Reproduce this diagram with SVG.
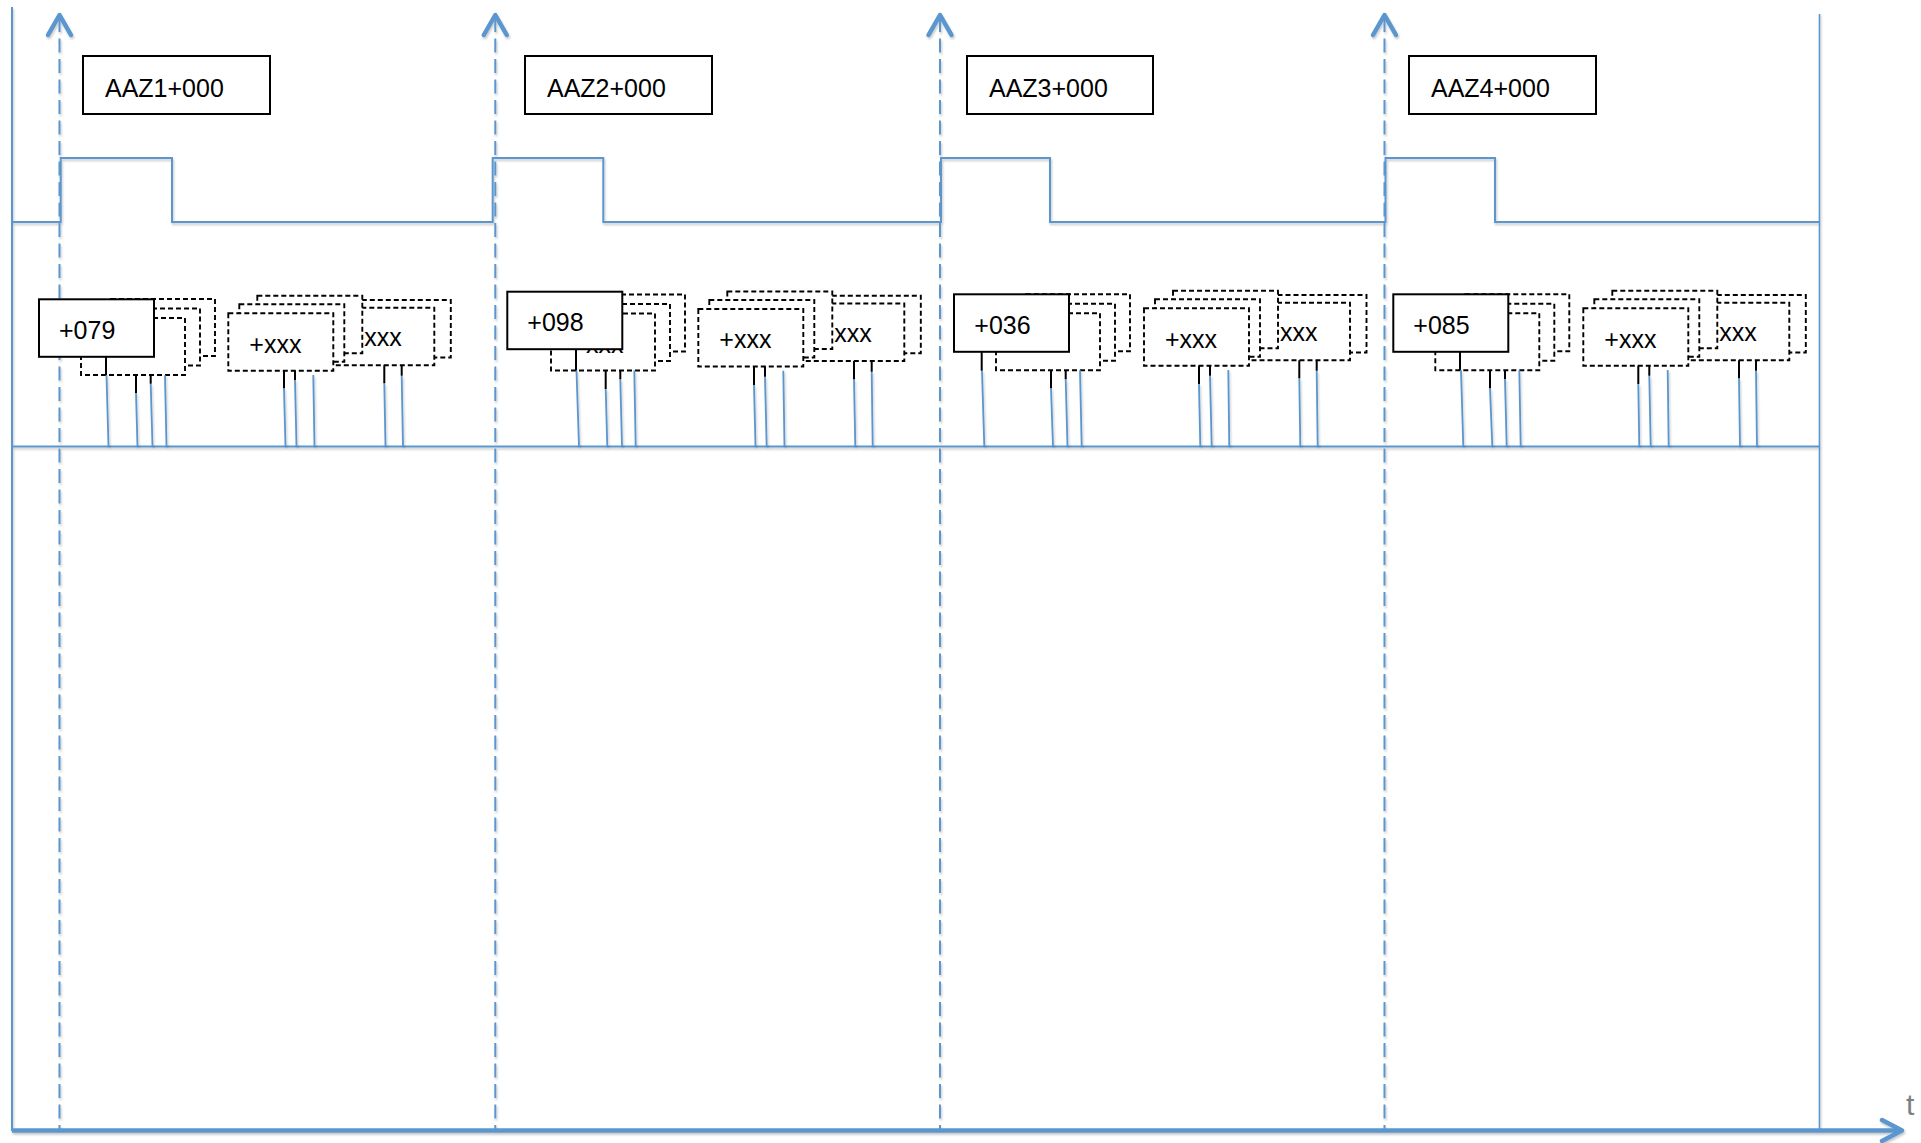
<svg xmlns="http://www.w3.org/2000/svg" width="1921" height="1143" viewBox="0 0 1921 1143">
<defs>
<filter id="sh" filterUnits="userSpaceOnUse" x="0" y="0" width="1921" height="1143">
<feDropShadow dx="1" dy="2" stdDeviation="1.2" flood-color="#000" flood-opacity="0.22"/>
</filter>
<style>
.bl{stroke:#5B96CE;fill:none}
.w2{stroke-width:2}
.w15{stroke-width:1.6}
.dl{stroke-width:2;stroke-dasharray:14 6.5}
.hd{stroke-width:4.5;stroke-linecap:round;stroke-linejoin:round}
.box{fill:#fff;stroke:#000;stroke-width:2}
.db{fill:#fff;stroke:#000;stroke-width:1.9;stroke-dasharray:5 3}
.tx{font-family:"Liberation Sans",Arial,sans-serif;font-size:25px;fill:#000}
.tk{stroke:#000;stroke-width:2}
.ld{stroke:#5B96CE;stroke-width:1.8;fill:none}
</style>
</defs>
<rect width="1921" height="1143" fill="#fff"/>

<g id="frame" filter="url(#sh)">
<line class="bl w2" x1="12" y1="7" x2="12" y2="1131"/>
<line class="bl w15" x1="1819.5" y1="14" x2="1819.5" y2="1130"/>
<line class="bl w2" x1="12" y1="446.5" x2="1819.5" y2="446.5"/>
<path class="bl w2" d="M12,222 H60.7 V158 H172 V222 H492.7 V158 H603.3 V222 H941 V158 H1050 V222 H1385.5 V158 H1495 V222 H1819.5"/>
<line class="bl dl" x1="59.5" y1="18" x2="59.5" y2="1130"/>
<line class="bl dl" x1="495.3" y1="18" x2="495.3" y2="1130"/>
<line class="bl dl" x1="940" y1="18" x2="940" y2="1130"/>
<line class="bl dl" x1="1384.5" y1="18" x2="1384.5" y2="1130"/>
<path class="bl hd" d="M48,35 L59.5,15 L71,35"/>
<path class="bl hd" d="M483.8,35 L495.3,15 L506.8,35"/>
<path class="bl hd" d="M928.5,35 L940,15 L951.5,35"/>
<path class="bl hd" d="M1373,35 L1384.5,15 L1396,35"/>
<line class="bl" stroke-width="4.5" x1="12" y1="1130.5" x2="1900" y2="1130.5"/>
<path class="bl hd" d="M1882,1120 L1902,1130.5 L1882,1141"/>
</g>
<text x="1906" y="1115" font-family="Liberation Sans, Arial, sans-serif" font-size="30" fill="#7F7F7F">t</text>

<g id="aaz1"><rect class="box" x="83" y="56" width="187" height="58"/><text class="tx" x="105" y="97" font-size="25.5">AAZ1+000</text></g>
<g id="aaz2"><rect class="box" x="525" y="56" width="187" height="58"/><text class="tx" x="547" y="97" font-size="25.5">AAZ2+000</text></g>
<g id="aaz3"><rect class="box" x="967" y="56" width="186" height="58"/><text class="tx" x="989" y="97" font-size="25.5">AAZ3+000</text></g>
<g id="aaz4"><rect class="box" x="1409" y="56" width="187" height="58"/><text class="tx" x="1431" y="97" font-size="25.5">AAZ4+000</text></g>

<g id="tag1">
<rect class="db" x="111" y="299" width="104" height="57"/>
<rect class="db" x="96" y="308.5" width="104" height="57"/>
<rect class="db" x="81" y="318" width="104" height="57"/>
<rect class="box" x="39" y="299.3" width="115" height="57.5"/>
<text class="tx" x="59" y="339">+079</text>
</g>
<g id="tag1x">
<rect class="db" x="345.8" y="300" width="105" height="57.5"/>
<rect class="db" x="329.3" y="307.8" width="105" height="57.5"/>
<text class="tx" x="364.3" y="346.3">xxx</text>
<rect class="db" x="257.3" y="295.8" width="105" height="57.5"/>
<rect class="db" x="239.3" y="304.3" width="105" height="57.5"/>
<rect class="db" x="228.3" y="313.3" width="105" height="57.5"/>
<text class="tx" x="249.3" y="352.7">+xxx</text>
</g>

<g id="tag2">
<rect class="db" x="581" y="294.5" width="104" height="57"/>
<rect class="db" x="566" y="304" width="104" height="57"/>
<rect class="db" x="551" y="313.5" width="104" height="57"/>
<text class="tx" x="586" y="352.5">xxx</text>
<rect class="box" x="507.3" y="291.7" width="115" height="57.5"/>
<text class="tx" x="527.3" y="331">+098</text>
</g>
<g id="tag2x">
<rect class="db" x="815.8" y="295.7" width="105" height="57.5"/>
<rect class="db" x="799.3" y="303.5" width="105" height="57.5"/>
<text class="tx" x="834.3" y="342">xxx</text>
<rect class="db" x="727.3" y="291.5" width="105" height="57.5"/>
<rect class="db" x="709.3" y="300" width="105" height="57.5"/>
<rect class="db" x="698.3" y="309" width="105" height="57.5"/>
<text class="tx" x="719.3" y="348.4">+xxx</text>
</g>

<g id="tag3">
<rect class="db" x="1026" y="294.3" width="104" height="57"/>
<rect class="db" x="1011" y="303.8" width="104" height="57"/>
<rect class="db" x="996" y="313.3" width="104" height="57"/>
<rect class="box" x="954" y="294.3" width="115" height="57.5"/>
<text class="tx" x="974.3" y="334">+036</text>
</g>
<g id="tag3x">
<rect class="db" x="1261.5" y="295" width="105" height="57.5"/>
<rect class="db" x="1245" y="302.8" width="105" height="57.5"/>
<text class="tx" x="1280" y="341.3">xxx</text>
<rect class="db" x="1173" y="290.8" width="105" height="57.5"/>
<rect class="db" x="1155" y="299.3" width="105" height="57.5"/>
<rect class="db" x="1144" y="308.3" width="105" height="57.5"/>
<text class="tx" x="1165" y="347.7">+xxx</text>
</g>

<g id="tag4">
<rect class="db" x="1465.3" y="294.3" width="104" height="57"/>
<rect class="db" x="1450.3" y="303.8" width="104" height="57"/>
<rect class="db" x="1435.3" y="313.3" width="104" height="57"/>
<rect class="box" x="1393.3" y="294.3" width="115" height="57.5"/>
<text class="tx" x="1413.3" y="334">+085</text>
</g>
<g id="tag4x">
<rect class="db" x="1700.8" y="295" width="105" height="57.5"/>
<rect class="db" x="1684.3" y="302.8" width="105" height="57.5"/>
<text class="tx" x="1719.3" y="341.3">xxx</text>
<rect class="db" x="1612.3" y="290.8" width="105" height="57.5"/>
<rect class="db" x="1594.3" y="299.3" width="105" height="57.5"/>
<rect class="db" x="1583.3" y="308.3" width="105" height="57.5"/>
<text class="tx" x="1604.3" y="347.7">+xxx</text>
</g>

<g id="connectors">
<g filter="url(#sh)">
<path class="ld" d="M106.5,375 L108.5,446 M136,393 L137.5,446 M150.7,383.8 L152.5,446 M165,375.3 L166.5,446 M284,388.3 L285.5,446 M295,380 L296.5,446 M313.3,375 L314.5,446 M384.3,383.3 L385.5,446 M401.7,375.7 L403,446"/>
<path class="ld" d="M576.5,370.5 L579,446 M605.7,389 L607.3,446 M620.3,379.3 L622,446 M634.3,370.5 L635.7,446 M754,385 L755.5,446 M765,376.7 L766.7,446 M783.3,370.7 L784.5,446 M854,379.3 L855.3,446 M871.7,371.7 L872.7,446"/>
<path class="ld" d="M982,370.7 L984.3,446 M1051,388.3 L1053,446 M1065.7,379.3 L1067.5,446 M1080,370.3 L1081.7,446 M1199,384 L1200.3,446 M1210,375.7 L1211.7,446 M1228.3,370 L1229.3,446 M1299.3,378.3 L1300.3,446 M1316.7,370.7 L1317.7,446"/>
<path class="ld" d="M1461,370.3 L1463.3,446 M1490,388.3 L1492.3,446 M1505,379 L1506.7,446 M1519.3,370.3 L1520.7,446 M1638.3,384 L1639.3,446 M1649.3,375.7 L1650.7,446 M1667.7,370 L1668.7,446 M1739,378.3 L1740,446 M1756,370.7 L1757,446"/>
</g>
<path class="tk" d="M106,356.8 V375 M136,375.3 V393 M150.7,375.3 V383.8 M284,370.8 V388.3 M295,370.8 V380 M384.3,365.3 V383.3 M401.7,365.3 V375.7"/>
<path class="tk" d="M576,349.2 V370.5 M605.7,370.5 V389 M620.3,370.5 V379.3 M754,366.5 V385 M765,366.5 V376.7 M854,361 V379.3 M871.7,361 V371.7"/>
<path class="tk" d="M981.7,351.8 V370.7 M1051,370.3 V388.3 M1065.7,370.3 V379.3 M1199,365.8 V384 M1210,365.8 V375.7 M1299.3,360.3 V378.3 M1316.7,360.3 V370.7"/>
<path class="tk" d="M1460,351.8 V370.3 M1490,370.3 V388.3 M1505,370.3 V379 M1638.3,365.8 V384 M1649.3,365.8 V375.7 M1739,360.3 V378.3 M1756,360.3 V370.7"/>
</g>
</svg>
